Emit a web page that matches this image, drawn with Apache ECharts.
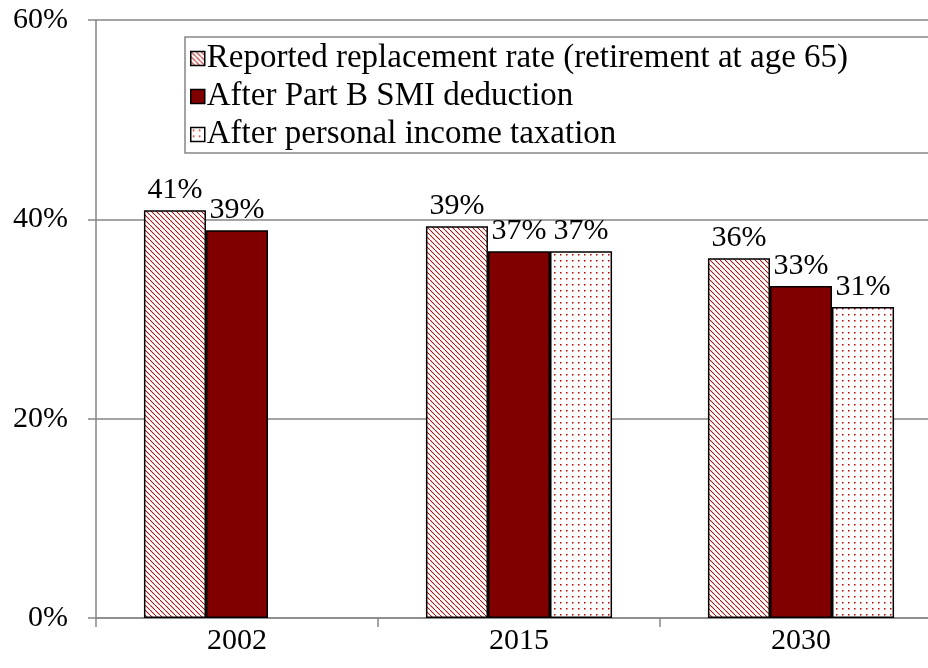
<!DOCTYPE html>
<html>
<head>
<meta charset="utf-8">
<script src="https://cdn.jsdelivr.net/npm/echarts@6/dist/echarts.min.js"></script>
<style>
html,body{margin:0;padding:0;background:#fff;}
#chart{width:928px;height:668px;}
</style>
</head>
<body>
<div id="chart"></div>
<script>
var categories = ['2002', '2015', '2030'];
var seriesNames = ['Reported replacement rate (retirement at age 65)', 'After Part B SMI deduction', 'After personal income taxation'];
var reported = [40.9, 39.3, 36.1];
var afterPartB = [38.9, 36.8, 33.3];
var afterTax = [null, 36.8, 31.2];
var yTicks = [0, 20, 40, 60];

function stripePattern() {
  var c = document.createElement('canvas');
  c.width = 5; c.height = 5;
  var ctx = c.getContext('2d');
  ctx.fillStyle = '#ffffff';
  ctx.fillRect(0, 0, 5, 5);
  ctx.fillStyle = '#b01818';
  for (var i = 0; i < 5; i++) {
    ctx.fillRect(i, i, 1.2, 1.2);
  }
  return c;
}
function dotPattern() {
  var c = document.createElement('canvas');
  c.width = 6; c.height = 6;
  var ctx = c.getContext('2d');
  ctx.fillStyle = '#ffffff';
  ctx.fillRect(0, 0, 6, 6);
  ctx.fillStyle = '#c00000';
  ctx.fillRect(2, 2, 1.5, 1.5);
  return c;
}

var font = '"Liberation Serif", "Times New Roman", serif';
var fills = [
  {image: stripePattern(), repeat: 'repeat'},
  '#800000',
  {image: dotPattern(), repeat: 'repeat'}
];
var datas = [reported, afterPartB, afterTax];

var chart = echarts.init(document.getElementById('chart'), null, {renderer: 'canvas'});
var series = datas.map(function (d, i) {
  return {
    name: seriesNames[i],
    type: 'bar',
    data: d,
    barGap: '0%',
    barCategoryGap: '34%',
    itemStyle: {color: fills[i], borderColor: '#000', borderWidth: 1.5},
    label: {
      show: true,
      position: 'top',
      distance: 5,
      color: '#000',
      fontFamily: font,
      fontSize: 30,
      formatter: function (p) { return p.value == null ? '' : Math.round(p.value) + '%'; }
    },
    emphasis: {disabled: true}
  };
});

chart.setOption({
  animation: false,
  backgroundColor: '#fff',
  grid: {left: 96, width: 846, top: 20, bottom: 50, containLabel: false, outerBoundsMode: 'none'},
  legend: {
    orient: 'vertical',
    left: 185,
    top: 37,
    padding: [5, 400, 2, 5],
    itemGap: 5,
    itemWidth: 14,
    itemHeight: 14,
    borderColor: '#868686',
    borderWidth: 1.5,
    backgroundColor: '#fff',
    icon: 'rect',
    itemStyle: {borderColor: '#000', borderWidth: 1.5},
    textStyle: {fontFamily: font, fontSize: 33, color: '#000', lineHeight: 30, padding: [0, 0, 0, -3]},
    data: seriesNames
  },
  xAxis: {
    type: 'category',
    data: categories,
    axisLine: {lineStyle: {color: '#868686', width: 1.5}},
    axisTick: {show: true, length: 9, lineStyle: {color: '#868686', width: 1.5}},
    axisLabel: {fontFamily: font, fontSize: 30, color: '#000', margin: 8}
  },
  yAxis: {
    type: 'value',
    min: yTicks[0],
    max: yTicks[yTicks.length - 1],
    interval: 20,
    axisLine: {show: true, lineStyle: {color: '#868686', width: 1.5}},
    axisTick: {show: true, length: 8, lineStyle: {color: '#868686', width: 1.5}},
    splitLine: {show: true, lineStyle: {color: '#868686', width: 1.5}},
    axisLabel: {fontFamily: font, fontSize: 30, color: '#000', margin: 28, formatter: '{value}%'}
  },
  series: series
});
</script>
</body>
</html>
